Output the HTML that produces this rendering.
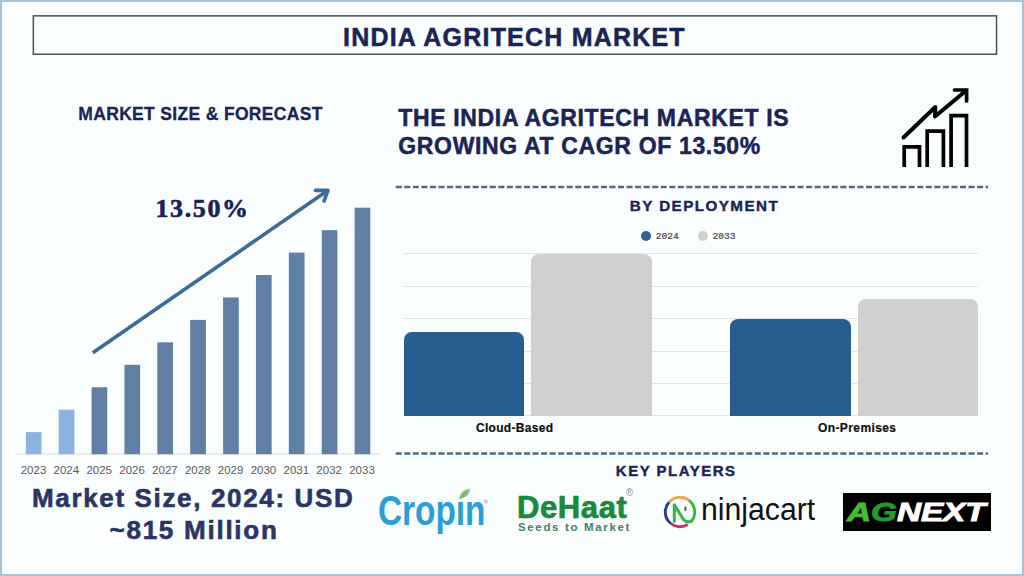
<!DOCTYPE html>
<html>
<head>
<meta charset="utf-8">
<style>
html,body{margin:0;padding:0;}
body{width:1024px;height:576px;overflow:hidden;background:#fbfefe;font-family:"Liberation Sans",sans-serif;position:relative;}
.frame{position:absolute;left:0;top:0;width:1020px;height:572px;border:2px solid #a9c3d6;}
.abs{position:absolute;white-space:nowrap;}
.navy{color:#1b2454;}
.t{position:absolute;white-space:nowrap;line-height:1;font-weight:bold;}
.yr{position:absolute;top:465px;font-size:11.5px;color:#5a5a5a;width:33px;text-align:center;line-height:1;}
.grid{position:absolute;left:404px;width:574px;height:1px;background:#e5e4ea;}
</style>
</head>
<body>
<div class="frame"></div>
<svg style="position:absolute;left:0;top:0" width="1024" height="70"><rect x="33.35" y="15.85" width="963.2" height="38.4" fill="none" stroke="#4d5156" stroke-width="1.5"/></svg>
<div class="t navy" id="title" style="left:343px;top:24.7px;font-size:25px;letter-spacing:1.2px;-webkit-text-stroke:0.5px #1b2454;">INDIA AGRITECH MARKET</div>

<!-- left section -->
<div class="t navy" id="msf" style="left:78.3px;top:105.5px;font-size:17.5px;letter-spacing:0.33px;-webkit-text-stroke:0.3px #1b2454;">MARKET SIZE &amp; FORECAST</div>

<!-- left chart -->
<svg style="position:absolute;left:0;top:0" width="400" height="470">
  <rect x="17" y="453.5" width="362" height="1" fill="#dcdcdc"/>
  <rect x="25.80" y="432.10" width="15.7" height="22.10" fill="#8cb3e0"/>
  <rect x="58.68" y="409.66" width="15.7" height="44.54" fill="#8cb3e0"/>
  <rect x="91.56" y="387.22" width="15.7" height="66.98" fill="#5f80a4"/>
  <rect x="124.44" y="364.78" width="15.7" height="89.42" fill="#5f80a4"/>
  <rect x="157.32" y="342.34" width="15.7" height="111.86" fill="#5f80a4"/>
  <rect x="190.20" y="319.90" width="15.7" height="134.30" fill="#5f80a4"/>
  <rect x="223.08" y="297.46" width="15.7" height="156.74" fill="#5f80a4"/>
  <rect x="255.96" y="275.02" width="15.7" height="179.18" fill="#5f80a4"/>
  <rect x="288.84" y="252.58" width="15.7" height="201.62" fill="#5f80a4"/>
  <rect x="321.72" y="230.14" width="15.7" height="224.06" fill="#5f80a4"/>
  <rect x="354.60" y="207.70" width="15.7" height="246.50" fill="#5f80a4"/>
</svg>

<div class="yr" style="left:17.00px;">2023</div>
<div class="yr" style="left:49.85px;">2024</div>
<div class="yr" style="left:82.70px;">2025</div>
<div class="yr" style="left:115.55px;">2026</div>
<div class="yr" style="left:148.40px;">2027</div>
<div class="yr" style="left:181.25px;">2028</div>
<div class="yr" style="left:214.10px;">2029</div>
<div class="yr" style="left:246.95px;">2030</div>
<div class="yr" style="left:279.80px;">2031</div>
<div class="yr" style="left:312.65px;">2032</div>
<div class="yr" style="left:345.50px;">2033</div>

<svg style="position:absolute;left:0;top:0" width="1024" height="576">
  <g stroke="#3b6c98" stroke-width="3.6" fill="none" stroke-linecap="round" stroke-linejoin="round">
    <line x1="92.8" y1="352.8" x2="327" y2="191" stroke-linecap="butt"/>
    <polyline points="315.5,190.4 328,190.4 324,201"/>
  </g>
</svg>
<div class="t" id="pct" style="left:155.5px;top:196px;font-size:26px;letter-spacing:1.6px;font-family:'Liberation Serif',serif;color:#18215a;-webkit-text-stroke:0.6px #18215a;">13.50%</div>

<div class="t" id="ms1" style="left:32px;top:484.5px;font-size:26px;letter-spacing:1.65px;color:#2b3565;-webkit-text-stroke:0.6px #2b3565;">Market Size, 2024: USD</div>
<div class="t" id="ms2" style="left:109.5px;top:517px;font-size:26px;letter-spacing:1.75px;color:#2b3565;-webkit-text-stroke:0.6px #2b3565;">~815 Million</div>

<!-- right section -->
<div class="t navy" id="h1" style="left:398.3px;top:107px;font-size:23px;letter-spacing:0.65px;-webkit-text-stroke:0.5px #1b2454;">THE INDIA AGRITECH MARKET IS</div>
<div class="t navy" id="h2" style="left:398.3px;top:135px;font-size:23px;letter-spacing:0.65px;-webkit-text-stroke:0.5px #1b2454;">GROWING AT CAGR OF 13.50%</div>

<svg style="position:absolute;left:895px;top:84px" width="80" height="88" viewBox="895 84 80 88">
  <g stroke="#000" stroke-width="3.7" fill="none" stroke-linecap="round" stroke-linejoin="round">
    <polyline points="904.2,167 904.2,146.8 919.5,146.8 919.5,167" stroke-linecap="butt" stroke-linejoin="miter"/>
    <polyline points="927.2,167 927.2,131.2 943.4,131.2 943.4,167" stroke-linecap="butt" stroke-linejoin="miter"/>
    <polyline points="951.1,167 951.1,115.6 966.5,115.6 966.5,167" stroke-linecap="butt" stroke-linejoin="miter"/>
    <polyline points="903.5,137.5 935.3,107 935,116.5 965,91.5" stroke-width="4"/>
    <polyline points="954.5,90 966.6,90 966.6,101" stroke-linejoin="miter"/>
  </g>
</svg>

<svg style="position:absolute;left:0;top:0" width="1024" height="576"><g stroke="#4b6686" stroke-width="2.5" stroke-dasharray="6.05 2.5"><line x1="395.7" y1="186.9" x2="988" y2="186.9"/><line x1="395.7" y1="453.4" x2="988" y2="453.4" stroke="#486a86"/></g></svg>
<div class="t navy" id="bd" style="left:629.8px;top:197.8px;font-size:15.2px;letter-spacing:1.45px;-webkit-text-stroke:0.4px #1b2454;">BY DEPLOYMENT</div>

<div style="position:absolute;left:640.9px;top:231px;width:10px;height:10px;border-radius:50%;background:#2e6393;"></div>
<div class="abs" style="left:655.7px;top:232px;font-size:9.6px;font-family:'Liberation Mono',monospace;color:#444;line-height:1;-webkit-text-stroke:0.2px #444;">2024</div>
<div style="position:absolute;left:697.8px;top:231px;width:10px;height:10px;border-radius:50%;background:#d0d0d0;"></div>
<div class="abs" style="left:712.6px;top:232px;font-size:9.6px;font-family:'Liberation Mono',monospace;color:#444;line-height:1;-webkit-text-stroke:0.2px #444;">2033</div>

<div class="grid" style="top:253px;"></div>
<div class="grid" style="top:285.5px;"></div>
<div class="grid" style="top:318px;"></div>
<div class="grid" style="top:350.5px;"></div>
<div class="grid" style="top:383px;"></div>
<div class="grid" style="top:415px;"></div>

<div style="position:absolute;left:404px;top:332px;width:120.4px;height:84px;background:#285e8e;border-radius:8px 8px 0 0;"></div>
<div style="position:absolute;left:531.3px;top:253.9px;width:120.5px;height:162.1px;background:#d0d0d0;border-radius:8px 8px 0 0;"></div>
<div style="position:absolute;left:730.4px;top:319px;width:120.3px;height:97px;background:#285e8e;border-radius:8px 8px 0 0;"></div>
<div style="position:absolute;left:857.6px;top:299px;width:120.5px;height:117px;background:#d0d0d0;border-radius:8px 8px 0 0;"></div>

<div class="t" id="cb" style="left:476px;top:422px;font-size:12px;letter-spacing:0.3px;color:#111;-webkit-text-stroke:0.2px #111;">Cloud-Based</div>
<div class="t" id="op" style="left:818px;top:422px;font-size:12px;letter-spacing:0.4px;color:#111;-webkit-text-stroke:0.2px #111;">On-Premises</div>


<div class="t navy" id="kp" style="left:615.8px;top:462.8px;font-size:15px;letter-spacing:1.5px;-webkit-text-stroke:0.4px #1b2454;">KEY PLAYERS</div>

<!-- logos -->
<div class="t" id="cropin" style="left:378px;top:490.2px;font-size:42.5px;color:#2a9fd6;transform:scaleX(0.785);transform-origin:0 0;">Crop&#305;n</div>
<svg style="position:absolute;left:455px;top:486px" width="20" height="16" viewBox="0 0 20 16">
  <path d="M4.5 13 C 4.5 6.5, 9 3.5, 15 2.5 C 15 8, 11 12, 4.5 13 Z" fill="#86c97a"/>
  <path d="M5 12.5 L 12.5 5" stroke="#4fa544" stroke-width="0.9"/>
</svg>
<div style="position:absolute;left:483.5px;top:499px;width:4.5px;height:4.5px;border-radius:50%;background:#d6d3d8;"></div>
<div class="t" id="dehaat" style="left:517px;top:492px;font-size:31px;letter-spacing:0.6px;color:#178a3c;-webkit-text-stroke:0.7px #178a3c;">DeHaat</div>
<div class="abs" style="left:625.8px;top:488px;font-size:10px;line-height:1;color:#7a9a88;">&#174;</div>
<div class="abs" id="seeds" style="left:518px;top:522px;font-size:11.5px;font-weight:bold;color:#437f60;line-height:1;letter-spacing:1.65px;">Seeds to Market</div>
<svg style="position:absolute;left:660px;top:492px" width="40" height="40" viewBox="0 0 40 40">
  <g fill="none" stroke-width="2.9">
    <path d="M 9.08 10.16 A 14.7 14.7 0 0 1 29.05 8.42" stroke="#eea54a"/>
    <path d="M 29.05 8.42 A 14.7 14.7 0 0 1 31.26 29.45" stroke="#3cb34a"/>
    <path d="M 27.79 32.47 A 14.7 14.7 0 0 1 10.95 31.58" stroke="#cc2f7a"/>
    <path d="M 10.95 31.58 A 14.7 14.7 0 0 1 9.08 10.16" stroke="#2f3a8c"/>
    <path d="M 14.3 29.2 L 14.3 12.8 L 23.5 27.5 Q 26 30.5 31 29.4" stroke="#3cb34a" stroke-width="3.1" stroke-linejoin="round" stroke-linecap="round"/>
    <ellipse cx="25.4" cy="16.8" rx="1.2" ry="2.5" fill="#2a7a4a" stroke="none"/>
  </g>
</svg>
<div class="abs" id="ninja" style="left:700.6px;top:494px;font-size:31px;color:#111;line-height:1;transform:scaleX(0.975);transform-origin:0 0;">ninjacart</div>
<div style="position:absolute;left:843.4px;top:493px;width:148px;height:37.6px;background:#000;"></div>
<div class="t" id="agnext" style="left:846.5px;top:500.2px;font-size:25px;font-style:italic;color:#fff;transform:scaleX(1.33);transform-origin:0 0;-webkit-text-stroke:0.9px #fff;"><span style="color:#44bd2e;-webkit-text-stroke:0.9px #44bd2e;">A</span><span style="color:#25982a;-webkit-text-stroke:0.9px #25982a;">G</span>NEXT</div>
</body>
</html>
